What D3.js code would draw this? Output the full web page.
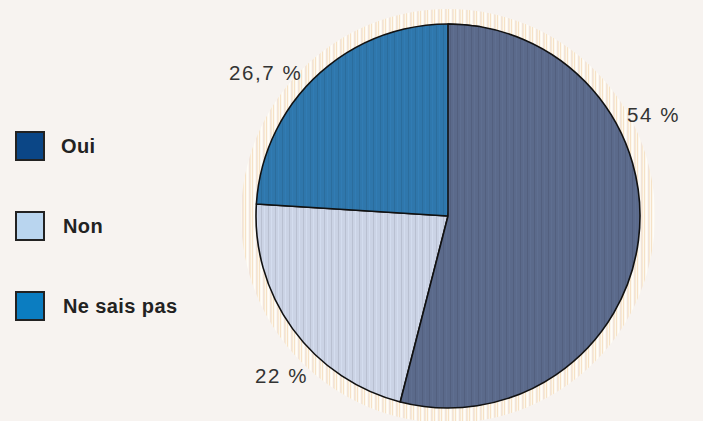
<!DOCTYPE html>
<html><head><meta charset="utf-8">
<script src="https://cdn.jsdelivr.net/npm/d3@7"></script>
<style>html,body{margin:0;padding:0;background:#f7f3f0;}svg{display:block;}</style>
</head><body><svg id="c" width="703" height="421"></svg>
<script>
const categories = ["Oui", "Non", "Ne sais pas"];
const values = [54, 22, 26.7];
const valueLabels = ["54 %", "22 %", "26,7 %"];
const pieColors = ["#5b6a8b", "#cbd3e5", "#2f77ac"];
const legendColors = ["#0b4686", "#b9d5ef", "#0b7dc1"];

const svg = d3.select("#c");
const cx = 448, cy = 216, r = 192;
const defs = svg.append("defs");

// halo stripes pattern
const hp = defs.append("pattern").attr("id","halo").attr("patternUnits","userSpaceOnUse").attr("width",7).attr("height",6);
hp.append("rect").attr("width",7).attr("height",6).attr("fill","#fcf7ef");
hp.append("rect").attr("x",0).attr("width",1).attr("height",6).attr("fill","#f6e2c6");
hp.append("rect").attr("x",2).attr("width",1).attr("height",6).attr("fill","#fefdf9");
hp.append("rect").attr("x",4).attr("width",1).attr("height",6).attr("fill","#f1e3da");
hp.append("rect").attr("x",5).attr("width",1).attr("height",6).attr("fill","#f9ead2");

// slice textures
pieColors.forEach((c,i)=>{
  const p = defs.append("pattern").attr("id","tex"+i).attr("patternUnits","userSpaceOnUse").attr("width",7).attr("height",4);
  p.append("rect").attr("width",7).attr("height",4).attr("fill",c);
  p.append("rect").attr("x",2).attr("width",1).attr("height",4).attr("fill",d3.color(c).darker(0.45)).attr("opacity",0.6);
  p.append("rect").attr("x",5).attr("width",1).attr("height",4).attr("fill",d3.color(c).brighter(0.25)).attr("opacity",0.5);
});

const g = svg.append("g").attr("transform",`translate(${cx},${cy})`);
g.append("circle").attr("r", r+15).attr("fill","url(#halo)");

// percentages mapped directly to angles (labels sum > 100)
const angle = d3.scaleLinear().domain([0,100]).range([0, 2*Math.PI]);
const cum = [0, ...d3.cumsum(values)];
const arcs = values.map((v,i)=>({index:i, value:v, startAngle:angle(cum[i]), endAngle:angle(cum[i+1])}));
const arc = d3.arc().innerRadius(0).outerRadius(r);
// draw Oui last so it covers the overflow past 100 %
const order = [1,2,0];
g.selectAll("path.s").data(order.map(i=>arcs[i])).join("path")
  .attr("class","s")
  .attr("d", arc)
  .attr("fill", d=>"url(#tex"+d.index+")")
  .attr("stroke","#111").attr("stroke-width",1.6).attr("stroke-linejoin","round");

// value labels
const labelPos = [[627,122],[255,383],[229,80]];
valueLabels.forEach((t,i)=>{
  svg.append("text").attr("x",labelPos[i][0]).attr("y",labelPos[i][1])
    .attr("font-family","Liberation Sans, Arial, sans-serif").attr("font-size",20.5)
    .attr("letter-spacing",1.6).attr("fill","#333").text(t);
});

// legend
const ly = d3.scalePoint().domain(categories).range([146, 306]);
const lg = svg.append("g");
categories.forEach((c,i)=>{
  const y = ly(c);
  lg.append("rect").attr("x",16).attr("y",y-14).attr("width",28).attr("height",28)
    .attr("fill",legendColors[i]).attr("stroke","#222").attr("stroke-width",2);
  lg.append("text").attr("x", i===0?61:63).attr("y",y+7)
    .attr("font-family","Liberation Sans, Arial, sans-serif").attr("font-weight","bold")
    .attr("font-size",20).attr("letter-spacing",0.4).attr("fill","#222").text(c);
});
</script></body></html>
